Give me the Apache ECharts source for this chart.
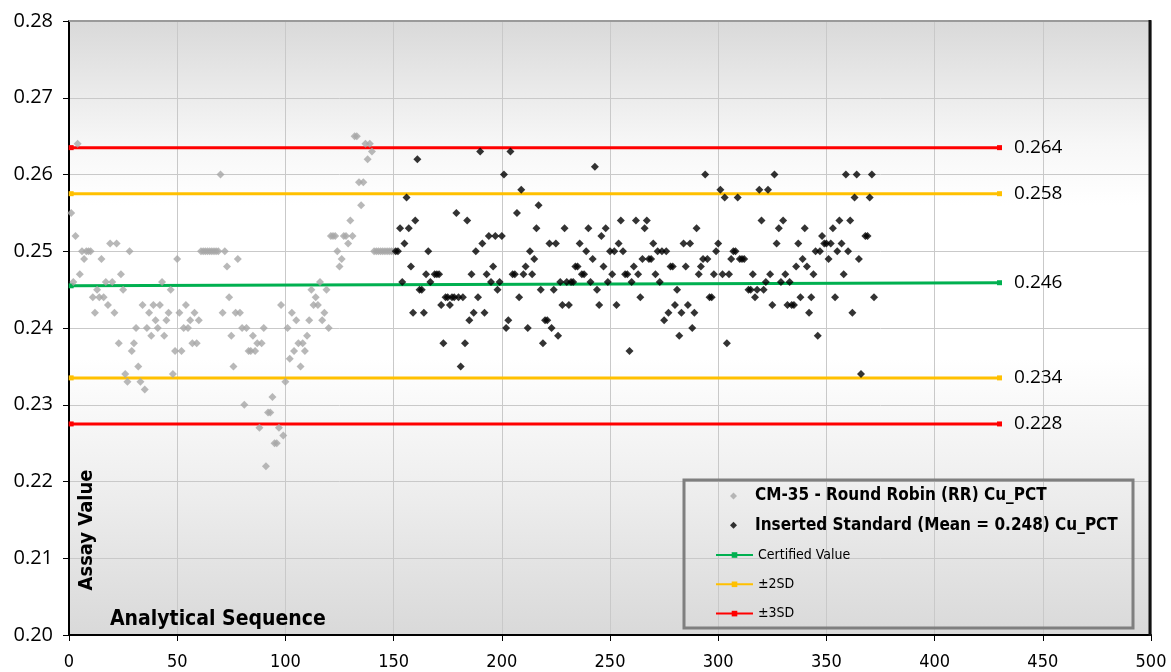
<!DOCTYPE html>
<html>
<head>
<meta charset="utf-8">
<script src="https://cdn.jsdelivr.net/npm/echarts@6/dist/echarts.min.js"></script>
<style>
html,body{margin:0;padding:0;background:#fff;}
#chart{width:1171px;height:672px;}
</style>
</head>
<body>
<div id="chart"></div>
<script>
// ---------- DATA ----------
var xTicks = [0, 50, 100, 150, 200, 250, 300, 350, 400, 450, 500];
var yTicks = [0.20, 0.21, 0.22, 0.23, 0.24, 0.25, 0.26, 0.27, 0.28];

var grayName = 'CM-35 - Round Robin (RR) Cu_PCT';
var blackName = 'Inserted Standard (Mean = 0.248) Cu_PCT';

// Round robin results, sequence 1..150
var graySeqStart = 1;
var grayValues = [
 0.255,0.246,0.252,0.264,0.247,0.250,0.249,0.250,0.250,0.250,
 0.244,0.242,0.245,0.244,0.249,0.244,0.246,0.243,0.251,0.246,
 0.242,0.251,0.238,0.247,0.245,0.234,0.233,0.250,0.237,0.238,
 0.240,0.235,0.233,0.243,0.232,0.240,0.242,0.239,0.243,0.241,
 0.240,0.243,0.246,0.239,0.241,0.242,0.245,0.234,0.237,0.249,
 0.242,0.237,0.240,0.243,0.240,0.241,0.238,0.242,0.238,0.241,
 0.250,0.250,0.250,0.250,0.250,0.250,0.250,0.250,0.250,0.260,
 0.242,0.250,0.248,0.244,0.239,0.235,0.242,0.249,0.242,0.240,
 0.230,0.240,0.237,0.237,0.239,0.237,0.238,0.227,0.238,0.240,
 0.222,0.229,0.229,0.231,0.225,0.225,0.227,0.243,0.226,0.233,
 0.240,0.236,0.242,0.237,0.241,0.238,0.235,0.238,0.237,0.239,
 0.241,0.245,0.243,0.244,0.243,0.246,0.241,0.242,0.245,0.240,
 0.252,0.252,0.252,0.250,0.248,0.249,0.252,0.252,0.251,0.254,
 0.252,0.265,0.265,0.259,0.256,0.259,0.264,0.262,0.264,0.263,
 0.250,0.250,0.250,0.250,0.250,0.250,0.250,0.250,0.250,0.250
];

// Inserted standard results, sequence 151..372 (null = no reading)
var blackSeqStart = 151;
var blackValues = [
 0.250,0.250,0.253,0.246,0.251,0.257,0.253,0.248,0.242,0.254,
 0.262,0.245,0.245,0.242,0.247,0.250,0.246,null,0.247,0.247,
 0.247,0.243,0.238,0.244,0.244,0.243,0.244,0.244,0.255,0.244,
 0.235,0.244,0.238,0.254,0.241,0.247,0.242,0.250,0.244,0.263,
 0.251,0.242,0.247,0.252,0.246,0.248,0.252,0.245,0.246,0.252,
 0.260,0.240,0.241,0.263,0.247,0.247,0.255,0.244,0.258,0.247,
 0.248,0.240,0.250,0.247,0.249,0.253,0.256,0.245,0.238,0.241,
 0.241,0.251,0.240,0.245,0.251,0.239,0.246,0.243,0.253,0.246,
 0.243,0.246,0.246,0.248,0.248,0.251,0.247,0.247,0.250,0.253,
 0.246,0.249,0.261,0.245,0.243,0.252,0.248,0.253,0.246,0.250,
 0.247,0.250,0.243,0.251,0.254,0.250,0.247,0.247,0.237,0.246,
 0.248,0.254,0.247,0.244,0.249,0.253,0.254,0.249,0.249,0.251,
 0.247,0.250,0.246,0.250,0.241,0.250,0.242,0.248,0.248,0.243,
 0.245,0.239,0.242,0.251,0.248,0.243,0.251,0.240,0.242,0.253,
 0.247,0.248,0.249,0.260,0.249,0.244,0.244,0.247,0.250,0.251,
 0.258,0.247,0.257,0.238,0.247,0.249,0.250,0.250,0.257,0.249,
 0.249,0.249,null,0.245,0.245,0.247,0.244,0.245,0.258,0.254,
 0.245,0.246,0.258,0.247,0.243,0.260,0.251,0.253,0.246,0.254,
 0.247,0.243,0.246,0.243,0.243,0.248,0.251,0.244,0.249,0.253,
 0.248,0.242,0.244,0.247,0.250,0.239,0.250,0.252,0.251,0.251,
 0.249,0.251,0.253,0.244,0.250,0.254,0.251,0.247,0.260,0.250,
 0.254,0.242,0.257,0.260,0.249,0.234,null,0.252,0.252,0.257,
 0.260,0.244
];

// Reference lines: [name, start value, end value, label]
var refNames   = ['±3SD', '±2SD', 'Certified Value', '±2SD', '±3SD'];
var refStart   = [0.2635, 0.2575, 0.2455, 0.2335, 0.2275];
var refEnd     = [0.2635, 0.2575, 0.2459, 0.2335, 0.2275];
var refLabels  = ['0.264', '0.258', '0.246', '0.234', '0.228'];
var refColors  = ['#ff0000', '#ffc000', '#00b050', '#ffc000', '#ff0000'];
var refFromSeq = 1;
var refToSeq = 430;

// ---------- CHART ----------
var chart = echarts.init(document.getElementById('chart'), null, {renderer: 'canvas', width: 1171, height: 672});

function pairs(start, vals) {
  var out = [];
  for (var i = 0; i < vals.length; i++) {
    if (vals[i] !== null) out.push([start + i, vals[i]]);
  }
  return out;
}

var condensed = '"DejaVu Sans Condensed", "DejaVu Sans", sans-serif';

var series = [];
for (var k = 0; k < refNames.length; k++) {
  (function (k) {
    series.push({
      name: refNames[k],
      type: 'line',
      z: 2,
      symbol: 'rect',
      symbolSize: 5,
      showSymbol: true,
      lineStyle: {color: refColors[k], width: 3},
      itemStyle: {color: refColors[k]},
      data: [
        [refFromSeq, refStart[k]],
        {value: [refToSeq, refEnd[k]], label: {
          show: true, position: 'right', distance: 12,
          formatter: function () { return refLabels[k]; },
          color: '#000', fontSize: 19, fontFamily: '"Open Sans", sans-serif'
        }}
      ],
      silent: true
    });
  })(k);
}
series.push({
  name: grayName, type: 'scatter', z: 5, symbol: 'diamond', symbolSize: 8,
  itemStyle: {color: '#a6a6a6'}, data: pairs(graySeqStart, grayValues)
});
series.push({
  name: blackName, type: 'scatter', z: 6, symbol: 'diamond', symbolSize: 8,
  itemStyle: {color: '#000000'}, data: pairs(blackSeqStart, blackValues)
});

var bg = new echarts.graphic.LinearGradient(0, 0, 0, 1, [
  {offset: 0, color: '#d9d9d9'},
  {offset: 0.2, color: '#f7f7f7'},
  {offset: 0.3, color: '#ffffff'},
  {offset: 0.55, color: '#ffffff'},
  {offset: 0.75, color: '#efefef'},
  {offset: 1, color: '#d9d9d9'}
]);

var boldLegend = {fontFamily: condensed, fontWeight: 'bold', fontSize: 17, lineHeight: 20, color: '#000', padding: [0, 0, 0, 13]};
var thinLegend = {fontFamily: condensed, fontWeight: 'normal', fontSize: 14, lineHeight: 20, color: '#000'};

chart.setOption({
  animation: false,
  backgroundColor: '#ffffff',
  grid: {left: 69, right: 20, top: 21, bottom: 37, show: true, backgroundColor: bg, borderWidth: 0},
  xAxis: {
    type: 'value', min: xTicks[0], max: xTicks[xTicks.length - 1], interval: 50,
    axisLine: {show: true, lineStyle: {color: '#000', width: 2}},
    axisTick: {show: true, inside: false, length: 6, lineStyle: {color: '#000'}},
    axisLabel: {color: '#000', fontSize: 18, fontFamily: condensed, margin: 18},
    splitLine: {show: true, lineStyle: {color: '#c9c9c9', width: 1}}
  },
  yAxis: {
    type: 'value', min: yTicks[0], max: yTicks[yTicks.length - 1], interval: 0.01,
    axisLine: {show: true, lineStyle: {color: '#000', width: 2}},
    axisTick: {show: true, inside: false, length: 6, lineStyle: {color: '#000'}},
    axisLabel: {color: '#000', fontSize: 20, fontFamily: '"Open Sans", sans-serif', margin: 16,
      formatter: function (v) { return v.toFixed(2); }},
    splitLine: {show: true, lineStyle: {color: '#c9c9c9', width: 1}}
  },
  legend: [{
    orient: 'vertical', left: 730, top: 486, padding: 0,
    itemWidth: 7, itemHeight: 7, itemGap: 9.3, selectedMode: false,
    data: [
      {name: grayName, icon: 'diamond', textStyle: boldLegend},
      {name: blackName, icon: 'diamond', textStyle: boldLegend}
    ]
  }, {
    orient: 'vertical', left: 715, top: 545, padding: 0,
    itemWidth: 37, itemHeight: 7, itemGap: 9.3, selectedMode: false,
    data: [
      {name: 'Certified Value', textStyle: thinLegend},
      {name: '±2SD', textStyle: thinLegend},
      {name: '±3SD', textStyle: thinLegend}
    ]
  }],
  graphic: [
    {type: 'line', z: 50, shape: {x1: 69, y1: 21, x2: 1151, y2: 21}, style: {stroke: '#9a9a9a', lineWidth: 2}},
    {type: 'line', z: 50, shape: {x1: 1150, y1: 20, x2: 1150, y2: 636}, style: {stroke: '#111', lineWidth: 3}},
    {type: 'rect', z: 40, shape: {x: 684, y: 480, width: 449, height: 148},
      style: {fill: 'rgba(0,0,0,0)', stroke: '#7f7f7f', lineWidth: 3}},
    {type: 'text', z: 60, x: 87, y: 530, rotation: Math.PI / 2,
      style: {text: 'Assay Value', fill: '#000', font: 'bold 20px ' + condensed, textAlign: 'center', textVerticalAlign: 'middle'}},
    {type: 'text', z: 60, x: 110, y: 620,
      style: {text: 'Analytical Sequence', fill: '#000', font: 'bold 21px ' + condensed, textAlign: 'left', textVerticalAlign: 'middle'}}
  ],
  series: series
});
</script>
</body>
</html>
